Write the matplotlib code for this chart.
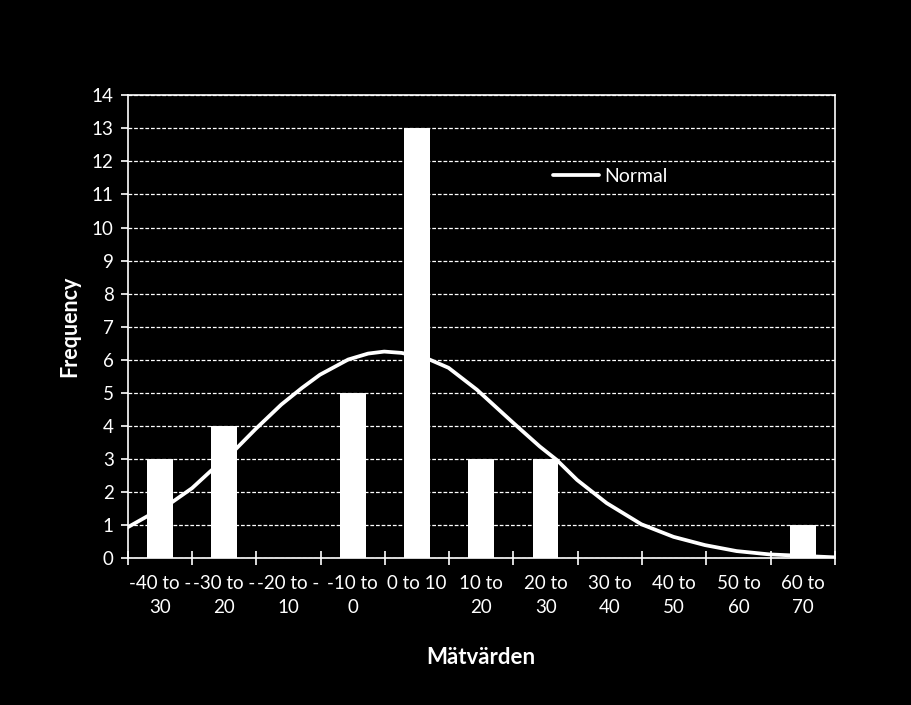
import numpy as np
import matplotlib.pyplot as plt

# histogram bins and counts
categories = ['-40 to -\n30', '-30 to -\n20', '-20 to -\n10', '-10 to\n0', '0 to 10',
              '10 to\n20', '20 to\n30', '30 to\n40', '40 to\n50', '50 to\n60', '60 to\n70']
counts = [3, 4, 0, 5, 13, 3, 3, 0, 0, 0, 1]

# fitted normal curve (x in bin units, 0 = first bin centre)
curve_x = [-0.5, 0.17, 0.5, 0.78, 1.17, 1.49, 1.89, 2.21, 2.49, 2.93, 3.24, 3.49, 3.76,
           4.17, 4.49, 4.93, 5.5, 5.91, 6.17, 6.49, 6.95, 7.49, 7.99, 8.48, 8.97, 9.48, 10.5]
curve_y = [0.94, 1.67, 2.12, 2.62, 3.28, 3.91, 4.65, 5.15, 5.55, 6.01, 6.19, 6.25, 6.21,
           6.03, 5.76, 5.10, 4.09, 3.38, 2.98, 2.37, 1.67, 1.03, 0.65, 0.40, 0.22, 0.12, 0.03]

plt.rcParams['font.family'] = ['Lato', 'DejaVu Sans']

fig = plt.figure(figsize=(9.12, 7.05), dpi=100, facecolor='black')
ax = fig.add_axes([0.140, 0.208, 0.7755, 0.657], facecolor='black')

x = np.arange(len(categories))
ax.bar(x, counts, width=0.4, color='white', zorder=2)
ax.plot(curve_x, curve_y, color='white', lw=2.7, solid_capstyle='round',
        solid_joinstyle='round', zorder=3, label='Normal')

ax.set_xlim(-0.5, 10.5)
ax.set_ylim(0, 14)
ax.set_yticks(range(0, 15))
ax.set_xticks(np.arange(-0.5, 11, 1))
ax.set_xticklabels([])
ax.set_xticks(x, minor=True)
ax.set_xticklabels(categories, minor=True, linespacing=1.5)
ax.tick_params(axis='x', which='minor', length=0, pad=12, labelsize=13.5, colors='white')
ax.tick_params(axis='x', which='major', direction='inout', length=9.5, width=1.2, color='white')
ax.tick_params(axis='y', direction='out', length=5, width=1.2, colors='white', labelsize=13.5, pad=5)

ax.yaxis.grid(True, color='white', linestyle=(0, (3, 1.5)), linewidth=0.9, zorder=0)
ax.set_axisbelow(True)
for s in ax.spines.values():
    s.set_color('white')
    s.set_linewidth(1.2)

ax.set_ylabel('Frequency', color='white', fontsize=15.5, fontweight='bold', labelpad=8)
ax.set_xlabel('Mätvärden', color='white', fontsize=16, fontweight='bold', labelpad=22)

leg = ax.legend(loc='center left', bbox_to_anchor=(0.576, 0.824), frameon=False,
                handlelength=2.4, handletextpad=0.25, fontsize=14)
for t in leg.get_texts():
    t.set_color('white')

fig.savefig('out.png', dpi=100, facecolor='black')
